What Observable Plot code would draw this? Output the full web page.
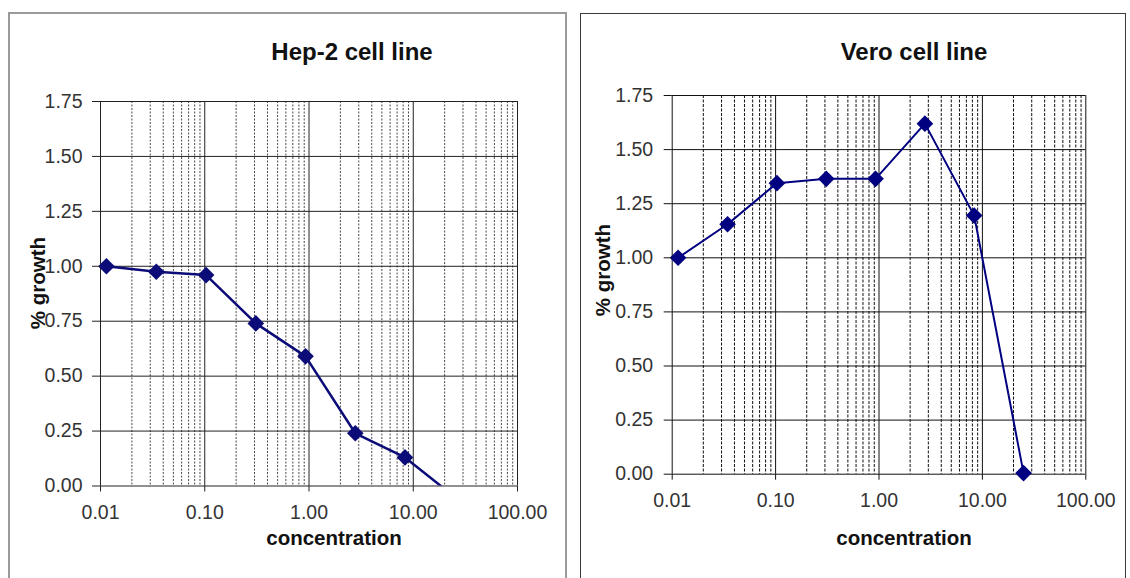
<!DOCTYPE html>
<html>
<head>
<meta charset="utf-8">
<script src="https://cdn.jsdelivr.net/npm/d3@7"></script>
<script src="https://cdn.jsdelivr.net/npm/@observablehq/plot@0.6"></script>
<style>
  html, body { margin: 0; padding: 0; background: #fff; }
  body { width: 1130px; height: 578px; overflow: hidden; position: relative; font-family: "Liberation Sans", Arial, sans-serif; }
  .panel { position: absolute; box-sizing: border-box; background: #fff; }
  #p1 { left: 8px; top: 12px; width: 559px; height: 620px; border: 2px solid #9a9a9a; }
  #p2 { left: 580px; top: 13px; width: 546px; height: 620px; border: 1.5px solid #3a3a3a; }
  .chart { position: absolute; top: 0; }
  .chart svg { overflow: visible; }
  .title { position: absolute; font-weight: bold; font-size: 24px; line-height: 24px; color: #111; white-space: nowrap; transform: translateX(-50%); }
  .xlab { position: absolute; font-weight: bold; font-size: 20.5px; line-height: 20.5px; color: #111; white-space: nowrap; transform: translateX(-50%); }
  .ylab { position: absolute; font-weight: bold; font-size: 20.5px; line-height: 20.5px; color: #111; white-space: nowrap; transform: translate(-50%, -50%) rotate(-90deg); }
</style>
</head>
<body>
<div class="panel" id="p1"></div>
<div class="panel" id="p2"></div>
<div class="chart" id="c1" style="left:0px"></div>
<div class="chart" id="c2" style="left:570px"></div>
<div class="title" style="left:352px; top:40px">Hep-2 cell line</div>
<div class="title" style="left:914px; top:40px">Vero cell line</div>
<div class="xlab" style="left:334px; top:528px">concentration</div>
<div class="xlab" style="left:904px; top:528px">concentration</div>
<div class="ylab" style="left:38px; top:283px">% growth</div>
<div class="ylab" style="left:603px; top:270px">% growth</div>
<script>
// ---- data ----
const concentration = [0.0114, 0.0343, 0.103, 0.309, 0.926, 2.78, 8.33, 25];
const hep2Growth = [1.00, 0.975, 0.96, 0.74, 0.59, 0.24, 0.13, -0.05];
const veroGrowth = [1.00, 1.155, 1.345, 1.365, 1.365, 1.62, 1.195, 0.005];
const xTicks = [0.01, 0.1, 1, 10, 100];
const yTicks = [0, 0.25, 0.5, 0.75, 1, 1.25, 1.5, 1.75];
const minorMultipliers = [2, 3, 4, 5, 6, 7, 8, 9];

const minorTicks = xTicks.slice(0, -1).flatMap(d => minorMultipliers.map(m => +(d * m).toPrecision(3)));
const fmt = d3.format(".2f");

function makeChart(growth, cfg) {
  const data = concentration.map((c, i) => ({c, g: growth[i]}));
  return Plot.plot({
    width: cfg.width,
    height: 578,
    marginLeft: cfg.ml,
    marginRight: cfg.mr,
    marginTop: cfg.mt,
    marginBottom: cfg.mb,
    x: {type: "log", domain: [0.01, 100]},
    y: {domain: [0, 1.75]},
    style: {fontFamily: "'Liberation Sans', Arial, sans-serif", fontSize: "19.5px", color: "#333", background: "transparent", overflow: "visible"},
    marks: [
      Plot.ruleX(minorTicks, {stroke: cfg.minorColor, strokeDasharray: cfg.dash, strokeWidth: 1}),
      Plot.ruleX(xTicks, {stroke: cfg.majorColor, strokeWidth: 1}),
      Plot.ruleY(yTicks, {stroke: cfg.majorColor, strokeWidth: 1}),
      Plot.line(data, {x: "c", y: "g", stroke: cfg.lineColor, strokeWidth: cfg.lineWidth, clip: true}),
      Plot.dot(data, {x: "c", y: "g", filter: d => d.g >= 0, symbol: "diamond2", fill: cfg.lineColor, r: 7.5}),
      Plot.axisX({ticks: xTicks, tickFormat: fmt, tickSize: 6, tickPadding: 13, label: null, stroke: cfg.majorColor}),
      Plot.axisY({ticks: yTicks, tickFormat: fmt, tickSize: 8, tickPadding: cfg.yPad, label: null, stroke: cfg.majorColor})
    ]
  });
}

document.getElementById("c1").append(makeChart(hep2Growth, {
  width: 570, ml: 100, mr: 53, mt: 101, mb: 92.5,
  minorColor: "#4a4a4a", majorColor: "#222", dash: "2,1.5", yPad: 10,
  lineColor: "#0c0c78", lineWidth: 2.5
}));
document.getElementById("c2").append(makeChart(veroGrowth, {
  width: 560, ml: 101.7, mr: 44.7, mt: 95, mb: 104.3,
  minorColor: "#111", majorColor: "#111", dash: "3,1.5", yPad: 11,
  lineColor: "#000080", lineWidth: 2
}));
</script>
</body>
</html>
